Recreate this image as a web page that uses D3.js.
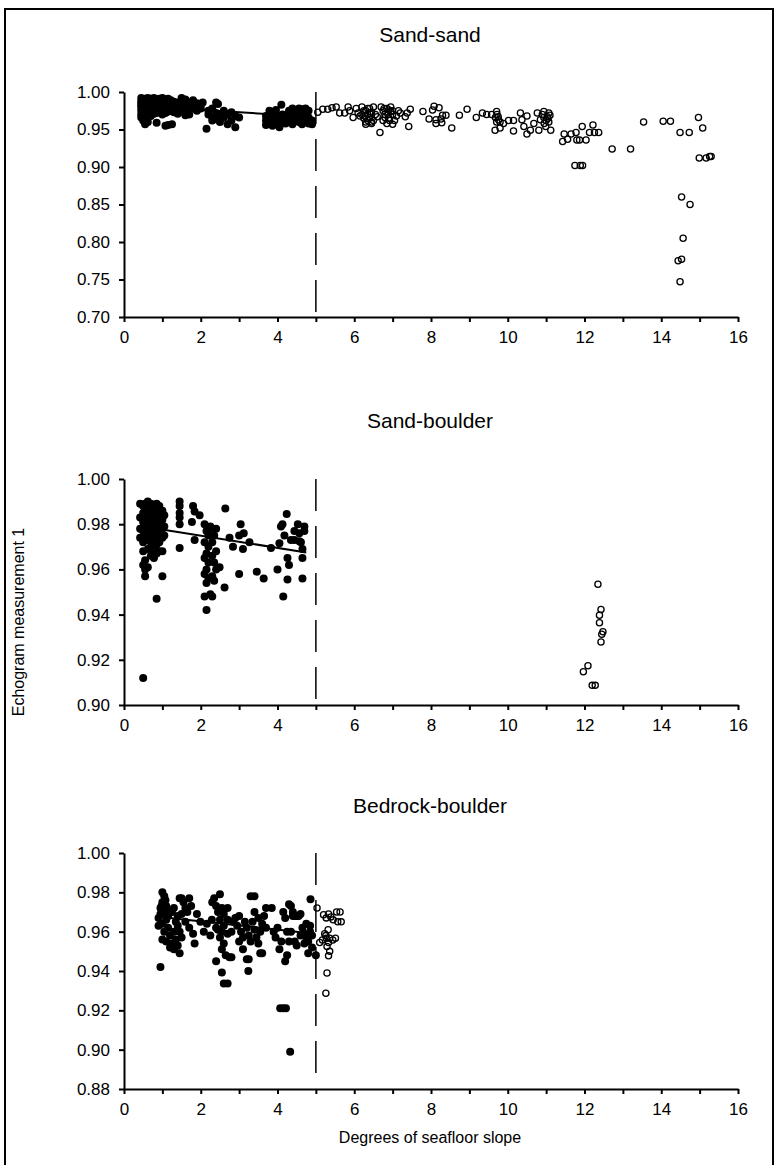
<!DOCTYPE html>
<html>
<head>
<meta charset="utf-8">
<script src="https://cdn.jsdelivr.net/npm/d3@7"></script>
<style>
body { margin: 0; background: #fff; }
svg text { font-family: "Liberation Sans", Arial, sans-serif; fill: #000; }
.axis path, .axis line { stroke: #000; stroke-width: 2; }
.axis text { font-size: 17px; }
</style>
</head>
<body>
<svg id="chart" width="778" height="1165"></svg>
<script>
// panel titles, y domains and tick labels
var panel_titles = ["Sand-sand", "Sand-boulder", "Bedrock-boulder"];
var y_domains = [[0.70, 1.00], [0.90, 1.00], [0.88, 1.00]];
var y_ticks = [
	[0.70, 0.75, 0.80, 0.85, 0.90, 0.95, 1.00],
	[0.90, 0.92, 0.94, 0.96, 0.98, 1.00],
	[0.88, 0.90, 0.92, 0.94, 0.96, 0.98, 1.00]
];
var x_ticks = [0,1,2,3,4,5,6,7,8,9,10,11,12,13,14,15,16];
var slope_cutoff = 5;

// [slope, echogram value]
var sand_sand_below = [
	[0.45,0.992],[0.45,0.988],[0.45,0.985],[0.45,0.982],[0.45,0.979],[0.45,0.975],[0.45,0.970],[0.45,0.966],
	[0.5,0.990],[0.5,0.986],[0.5,0.983],[0.5,0.978],[0.5,0.973],[0.5,0.962],
	[0.55,0.991],[0.55,0.987],[0.55,0.984],[0.55,0.980],[0.55,0.976],[0.55,0.971],[0.55,0.957],
	[0.62,0.992],[0.62,0.989],[0.62,0.985],[0.62,0.981],[0.62,0.977],[0.62,0.969],[0.62,0.960],
	[0.7,0.991],[0.7,0.987],[0.7,0.983],[0.7,0.979],[0.7,0.974],[0.7,0.968],
	[0.78,0.992],[0.78,0.988],[0.78,0.984],[0.78,0.980],[0.78,0.975],[0.78,0.971],
	[0.85,0.990],[0.85,0.986],[0.85,0.982],[0.85,0.978],[0.85,0.972],[0.85,0.959],
	[0.92,0.991],[0.92,0.987],[0.92,0.983],[0.92,0.979],[0.92,0.974],
	[1.0,0.992],[1.0,0.988],[1.0,0.984],[1.0,0.980],[1.0,0.976],[1.0,0.970],
	[1.08,0.990],[1.08,0.986],[1.08,0.982],[1.08,0.977],[1.08,0.972],[1.08,0.955],
	[1.15,0.991],[1.15,0.987],[1.15,0.983],[1.15,0.979],[1.15,0.974],[1.15,0.956],
	[1.22,0.989],[1.22,0.985],[1.22,0.980],[1.22,0.976],[1.25,0.957],
	[1.3,0.987],[1.3,0.983],[1.3,0.978],[1.3,0.973],
	[1.4,0.986],[1.4,0.981],[1.4,0.976],[1.4,0.971],
	[1.5,0.992],[1.5,0.988],[1.5,0.984],[1.5,0.979],[1.5,0.974],
	[1.6,0.990],[1.6,0.985],[1.6,0.980],[1.6,0.975],[1.6,0.969],
	[1.7,0.986],[1.7,0.982],[1.7,0.977],[1.7,0.970],
	[1.8,0.989],[1.8,0.984],[1.8,0.978],
	[1.9,0.985],[1.9,0.980],[1.9,0.975],
	[2.0,0.983],[2.0,0.978],[2.05,0.986],[2.15,0.951],
	[2.2,0.975],[2.2,0.970],[2.3,0.978],[2.3,0.966],[2.3,0.962],
	[2.4,0.986],[2.45,0.984],[2.4,0.972],[2.4,0.964],
	[2.5,0.968],[2.5,0.960],[2.6,0.975],[2.6,0.966],
	[2.7,0.970],[2.7,0.957],[2.8,0.973],[2.8,0.962],
	[2.9,0.968],[2.9,0.953],[3.0,0.966],
	[3.7,0.968],[3.7,0.962],[3.7,0.956],[3.79,0.975],[3.79,0.966],[3.79,0.958],
	[3.87,0.971],[3.87,0.963],[3.87,0.955],[3.96,0.976],[3.96,0.968],[3.96,0.960],
	[4.1,0.983],[4.04,0.964],[4.05,0.953],[4.13,0.970],[4.13,0.962],
	[4.21,0.966],[4.21,0.958],[4.3,0.975],[4.3,0.968],[4.3,0.960],
	[4.39,0.978],[4.39,0.971],[4.39,0.963],[4.39,0.957],
	[4.47,0.974],[4.47,0.966],[4.56,0.978],[4.56,0.969],[4.56,0.960],
	[4.64,0.977],[4.64,0.972],[4.64,0.964],[4.64,0.957],
	[4.73,0.978],[4.73,0.970],[4.73,0.962],
	[4.81,0.975],[4.81,0.966],[4.81,0.958],[4.9,0.962],[4.9,0.957]
];
var sand_sand_above = [
	[5.05,0.973],[5.18,0.977],[5.31,0.977],[5.42,0.979],[5.53,0.980],[5.62,0.972],[5.75,0.972],[5.84,0.980],[5.88,0.975],[5.97,0.966],
	[6.05,0.978],[6.1,0.972],[6.15,0.968],[6.2,0.980],[6.2,0.970],[6.25,0.975],[6.25,0.965],[6.28,0.968],[6.3,0.960],[6.3,0.957],[6.3,0.975],
	[6.35,0.978],[6.35,0.970],[6.35,0.962],[6.4,0.966],[6.4,0.978],[6.42,0.971],[6.45,0.973],[6.45,0.958],[6.45,0.960],[6.5,0.980],[6.5,0.962],[6.55,0.970],[6.6,0.967],
	[6.67,0.946],[6.7,0.980],[6.75,0.975],[6.75,0.962],[6.78,0.978],[6.8,0.970],[6.8,0.966],[6.85,0.978],[6.85,0.958],[6.88,0.970],[6.9,0.965],[6.9,0.976],
	[6.92,0.962],[6.95,0.974],[6.95,0.980],[7.0,0.970],[7.0,0.957],[7.0,0.975],[7.05,0.962],[7.1,0.968],[7.15,0.975],
	[7.2,0.972],[7.33,0.967],[7.38,0.972],[7.42,0.954],[7.46,0.977],
	[7.79,0.974],[7.95,0.964],[8.04,0.976],[8.08,0.981],[8.13,0.958],[8.13,0.963],[8.21,0.979],[8.26,0.964],[8.28,0.959],[8.3,0.969],[8.39,0.969],[8.54,0.952],[8.74,0.969],[8.94,0.977],
	[9.18,0.966],[9.34,0.972],[9.45,0.970],[9.58,0.970],[9.68,0.966],[9.71,0.974],[9.71,0.960],[9.72,0.970],[9.75,0.967],[9.76,0.963],[9.67,0.949],[9.8,0.952],[9.8,0.960],[9.89,0.958],
	[10.02,0.962],[10.15,0.962],[10.15,0.948],[10.33,0.972],[10.37,0.963],[10.42,0.954],[10.5,0.968],[10.5,0.944],[10.59,0.949],[10.68,0.958],[10.77,0.972],[10.81,0.949],[10.85,0.963],
	[10.9,0.970],[10.94,0.974],[10.94,0.966],[10.95,0.958],[10.99,0.954],[11.0,0.962],[11.03,0.967],[11.05,0.965],[11.07,0.972],[11.07,0.960],[11.1,0.969],[11.12,0.949],
	[11.43,0.934],[11.47,0.944],[11.56,0.937],[11.65,0.944],[11.78,0.946],[11.8,0.936],[11.87,0.936],[11.94,0.954],[12.04,0.936],[12.13,0.946],[12.22,0.956],[12.26,0.946],[12.37,0.946],
	[11.75,0.902],[11.89,0.902],[11.95,0.902],
	[12.72,0.924],[13.2,0.924],
	[13.54,0.960],[14.05,0.961],[14.24,0.961],[14.49,0.946],[14.73,0.946],[14.97,0.966],[15.08,0.952],[14.99,0.912],[15.17,0.912],[15.26,0.914],[15.3,0.914],
	[14.53,0.860],[14.75,0.850],[14.57,0.805],[14.44,0.775],[14.53,0.777],[14.49,0.747]
];
var sand_sand_fit = [[0.45,0.981],[4.9,0.967]];

var sand_boulder_below = [
	[0.42,0.989],[0.42,0.983],[0.42,0.978],[0.42,0.974],
	[0.5,0.988],[0.5,0.985],[0.5,0.981],[0.5,0.977],[0.5,0.972],[0.5,0.968],[0.5,0.962],
	[0.55,0.989],[0.55,0.986],[0.55,0.982],[0.55,0.979],[0.55,0.975],[0.55,0.964],[0.55,0.960],[0.55,0.957],
	[0.62,0.990],[0.62,0.987],[0.62,0.984],[0.62,0.980],[0.62,0.976],[0.62,0.973],[0.62,0.969],[0.62,0.961],
	[0.7,0.989],[0.7,0.986],[0.7,0.982],[0.7,0.978],[0.7,0.974],[0.7,0.970],[0.7,0.966],
	[0.78,0.988],[0.78,0.985],[0.78,0.981],[0.78,0.977],[0.78,0.973],[0.78,0.969],[0.78,0.965],
	[0.85,0.989],[0.85,0.986],[0.85,0.982],[0.85,0.978],[0.85,0.975],[0.85,0.971],[0.85,0.967],[0.85,0.947],
	[0.92,0.988],[0.92,0.984],[0.92,0.980],[0.92,0.976],[0.92,0.972],[0.92,0.968],
	[1.0,0.986],[1.0,0.982],[1.0,0.978],[1.0,0.974],[1.0,0.968],[1.0,0.957],
	[1.05,0.984],[1.05,0.979],[1.05,0.975],[0.5,0.912],
	[1.45,0.990],[1.45,0.988],[1.45,0.985],[1.45,0.983],[1.45,0.980],[1.45,0.9695],
	[1.8,0.988],[1.77,0.981],[1.84,0.9856],[1.97,0.984],[1.84,0.973],
	[2.1,0.980],[2.15,0.977],[2.2,0.975],[2.1,0.972],[2.2,0.970],[2.15,0.967],[2.1,0.965],[2.2,0.963],[2.15,0.960],
	[2.1,0.958],[2.2,0.956],[2.15,0.954],[2.1,0.948],[2.15,0.942],[2.25,0.949],[2.3,0.948],[2.3,0.978],[2.35,0.975],
	[2.3,0.972],[2.4,0.968],[2.3,0.966],[2.35,0.963],[2.4,0.960],[2.3,0.957],[2.35,0.955],[2.25,0.979],[2.4,0.978],
	[2.49,0.961],[2.62,0.952],[2.64,0.987],
	[2.75,0.974],[2.84,0.970],[3.04,0.980],[3.0,0.975],[3.12,0.976],[3.1,0.969],[3.0,0.958],[3.27,0.972],
	[3.46,0.959],[3.64,0.956],[3.83,0.9695],
	[4.0,0.960],[4.05,0.9716],[4.09,0.979],[4.13,0.980],[4.24,0.9845],[4.18,0.975],[4.15,0.948],[4.26,0.965],[4.3,0.962],
	[4.26,0.9555],[4.35,0.973],[4.44,0.977],[4.53,0.980],[4.57,0.976],[4.61,0.972],[4.7,0.979],[4.65,0.965],[4.65,0.956],
	[4.7,0.977],[4.65,0.969],[4.57,0.9725],[4.44,0.973]
];
var sand_boulder_above = [
	[12.35,0.9534],[12.43,0.9423],[12.39,0.9397],[12.39,0.9364],[12.48,0.9324],[12.45,0.9313],[12.43,0.9279],
	[12.09,0.9174],[11.97,0.9147],[12.2,0.9087],[12.28,0.9087]
];
var sand_boulder_fit = [[0.5,0.979],[4.75,0.9675]];

var bedrock_boulder_below = [
	[1.0,0.980],[0.95,0.942],
	[0.9,0.967],[0.95,0.972],[1.0,0.975],[1.05,0.970],[0.9,0.963],[1.0,0.964],[0.95,0.969],[1.1,0.966],[1.05,0.960],[1.0,0.956],[1.1,0.955],[0.98,0.973],[1.08,0.976],
	[1.05,0.978],[1.1,0.973],[1.2,0.970],[1.3,0.972],[1.4,0.968],
	[1.15,0.962],[1.2,0.952],[1.25,0.954],[1.3,0.951],[1.35,0.956],[1.4,0.953],[1.45,0.949],[1.2,0.958],[1.3,0.960],[1.4,0.963],
	[1.15,0.968],[1.25,0.970],[1.35,0.965],[1.45,0.960],[1.5,0.957],
	[1.45,0.977],[1.5,0.977],[1.55,0.975],[1.6,0.972],[1.7,0.977],[1.75,0.973],[1.65,0.970],[1.5,0.969],[1.6,0.965],[1.7,0.962],[1.8,0.959],
	[1.84,0.954],[1.9,0.969],[1.99,0.965],[2.08,0.960],[2.16,0.964],[2.25,0.958],[2.29,0.966],
	[2.3,0.975],[2.35,0.977],[2.4,0.973],[2.5,0.979],[2.45,0.970],[2.55,0.972],[2.6,0.969],[2.5,0.966],[2.4,0.962],[2.55,0.960],
	[2.6,0.963],[2.7,0.972],[2.7,0.966],[2.5,0.957],[2.6,0.954],[2.55,0.951],[2.65,0.948],[2.75,0.947],[2.8,0.947],[2.45,0.961],
	[2.7,0.959],[2.8,0.960],[2.85,0.965],
	[2.4,0.945],[2.55,0.9393],[2.6,0.9336],[2.7,0.9336],
	[2.9,0.967],[2.95,0.963],[3.0,0.968],[3.05,0.960],[3.1,0.957],[3.0,0.955],[3.15,0.965],[3.2,0.962],[3.25,0.958],[3.3,0.955],
	[3.1,0.951],[3.2,0.946],[3.25,0.946],[3.35,0.965],[3.4,0.961],[3.45,0.957],[3.5,0.954],[3.55,0.960],[3.6,0.964],[3.65,0.968],
	[3.7,0.962],[3.55,0.949],[3.6,0.949],[3.4,0.970],[3.5,0.967],
	[3.24,0.940],[3.3,0.978],[3.4,0.978],[3.7,0.972],[3.85,0.972],
	[3.9,0.960],[3.95,0.957],[4.0,0.962],[4.05,0.951],[4.1,0.955],[4.15,0.970],[4.2,0.967],[4.25,0.960],[4.2,0.945],[4.25,0.948],
	[4.3,0.955],[4.35,0.973],[4.4,0.968],[4.45,0.968],[4.5,0.968],[4.55,0.968],[4.6,0.969],[4.35,0.960],[4.45,0.955],[4.5,0.953],
	[4.6,0.958],[4.3,0.974],[4.4,0.970],
	[4.07,0.921],[4.15,0.921],[4.22,0.921],[4.33,0.899],
	[4.65,0.962],[4.7,0.959],[4.75,0.957],[4.8,0.955],[4.85,0.960],[4.9,0.958],[4.85,0.963],[4.75,0.964],[4.8,0.949],[4.7,0.954],[4.9,0.952],
	[4.86,0.9765],[5.0,0.948]
];
var bedrock_boulder_above = [
	[5.03,0.972],[5.1,0.9545],[5.2,0.9686],[5.27,0.967],[5.33,0.969],[5.39,0.9675],[5.45,0.966],
	[5.54,0.970],[5.63,0.970],[5.57,0.965],[5.66,0.965],
	[5.26,0.958],[5.32,0.961],[5.17,0.9558],[5.27,0.9567],[5.36,0.9567],[5.44,0.9558],[5.51,0.9567],[5.33,0.9545],
	[5.29,0.9525],[5.36,0.950],[5.33,0.9477],[5.29,0.939],[5.26,0.9287],[5.23,0.959]
];
var bedrock_boulder_fit = [[0.95,0.9675],[4.95,0.959]];

var below_sets = [sand_sand_below, sand_boulder_below, bedrock_boulder_below];
var above_sets = [sand_sand_above, sand_boulder_above, bedrock_boulder_above];
var fit_sets = [sand_sand_fit, sand_boulder_fit, bedrock_boulder_fit];

// layout of the three panels
var plot_left = 124, plot_right = 738;
var panel_top = [92, 479, 853];
var panel_bottom = [317, 705, 1089];
var title_y = [42, 428, 813];

var svg = d3.select("#chart");

svg.append("rect")
	.attr("x", 5).attr("y", 9)
	.attr("width", 768).attr("height", 1200)
	.attr("fill", "none").attr("stroke", "#000").attr("stroke-width", 2);

var xScale = d3.scaleLinear().domain([0, 16]).range([plot_left, plot_right]);

for (var p = 0; p < 3; p++) {
	var yScale = d3.scaleLinear().domain(y_domains[p]).range([panel_bottom[p], panel_top[p]]);
	var g = svg.append("g");

	g.append("text")
		.attr("x", 430)
		.attr("y", title_y[p])
		.attr("text-anchor", "middle")
		.style("font-size", "21px")
		.text(panel_titles[p]);

	// dashed cut-off at 5 degrees
	g.append("line")
		.attr("x1", xScale(slope_cutoff)).attr("x2", xScale(slope_cutoff))
		.attr("y1", yScale(y_domains[p][1])).attr("y2", yScale(y_domains[p][0]) - 4)
		.attr("stroke", "#000").attr("stroke-width", 1.5)
		.attr("stroke-dasharray", "32,15");

	g.selectAll("circle.open").data(above_sets[p]).enter().append("circle")
		.attr("class", "open")
		.attr("cx", function(d){ return xScale(d[0]); })
		.attr("cy", function(d){ return yScale(d[1]); })
		.attr("r", 3.1)
		.attr("fill", "none").attr("stroke", "#000").attr("stroke-width", 1.3);

	g.selectAll("circle.full").data(below_sets[p]).enter().append("circle")
		.attr("class", "full")
		.attr("cx", function(d){ return xScale(d[0]); })
		.attr("cy", function(d){ return yScale(d[1]); })
		.attr("r", 4)
		.attr("fill", "#000");

	var fit = d3.line()
		.x(function(d){ return xScale(d[0]); })
		.y(function(d){ return yScale(d[1]); });
	g.append("path").datum(fit_sets[p])
		.attr("d", fit)
		.attr("fill", "none").attr("stroke", "#000").attr("stroke-width", 2);

	var yAxis = d3.axisLeft(yScale)
		.tickValues(y_ticks[p])
		.tickFormat(d3.format(".2f"))
		.tickSize(5).tickSizeOuter(0).tickPadding(9);
	g.append("g").attr("class", "axis")
		.attr("transform", "translate(" + plot_left + ",0)")
		.call(yAxis);

	var xAxis = d3.axisBottom(xScale)
		.tickValues(x_ticks)
		.tickFormat(function(d){ return d % 2 === 0 ? d : ""; })
		.tickSize(5).tickSizeOuter(0).tickPadding(9);
	g.append("g").attr("class", "axis")
		.attr("transform", "translate(0," + panel_bottom[p] + ")")
		.call(xAxis);
}

svg.append("text")
	.attr("transform", "translate(24,622) rotate(-90)")
	.attr("text-anchor", "middle")
	.style("font-size", "16px")
	.text("Echogram measurement 1");

svg.append("text")
	.attr("x", 430)
	.attr("y", 1143)
	.attr("text-anchor", "middle")
	.style("font-size", "16px")
	.text("Degrees of seafloor slope");
</script>
</body>
</html>
